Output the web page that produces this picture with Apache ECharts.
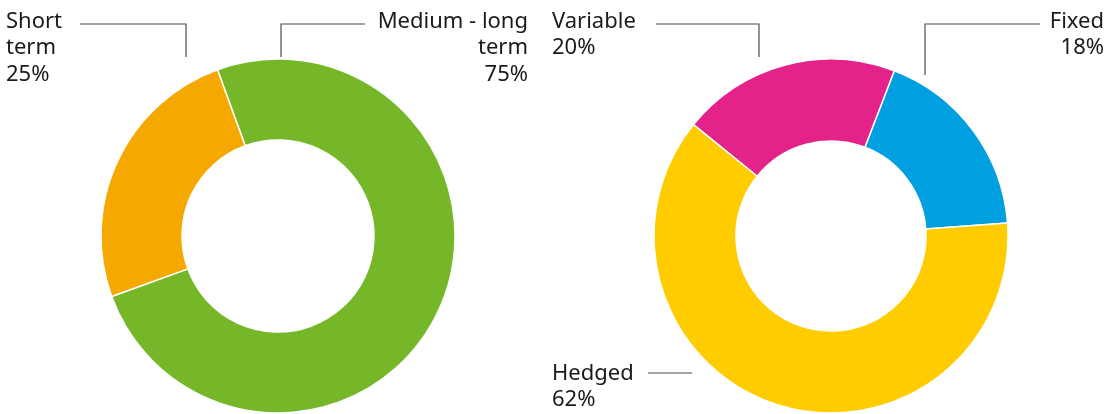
<!DOCTYPE html>
<html>
<head>
<meta charset="utf-8">
<script src="https://cdn.jsdelivr.net/npm/echarts@6/dist/echarts.min.js"></script>
<style>html,body{margin:0;padding:0;background:#fff}#c{width:1109px;height:414px}</style>
</head>
<body>
<div id="c"></div>
<script>
var termNames = ['Medium - long term', 'Short term'];
var termValues = [75, 25];
var termLabels = ['Medium - long\nterm', 'Short\nterm'];
var rateNames = ['Variable', 'Fixed', 'Hedged'];
var rateValues = [20, 18, 62];
var rateLabels = ['Variable', 'Fixed', 'Hedged'];

var termColors = ['#76B72A', '#F5A800'];
var rateColors = ['#E3238A', '#009FE0', '#FFCC00'];
var FONT = '"Noto Sans", "Open Sans", sans-serif';

function pieData(names, values, colors) {
  return names.map(function (n, i) { return { name: n, value: values[i], itemStyle: { color: colors[i] } }; });
}
function lbl(text, x, y, align) {
  return { type: 'text', x: x, y: y, style: { text: text, font: '22px ' + FONT, fill: '#1a1a1a', align: align, verticalAlign: 'top', lineHeight: 26.5 } };
}
function line(points) {
  return { type: 'polyline', shape: { points: points }, style: { stroke: '#4d4d4d', lineWidth: 1.2, fill: null } };
}

var chart = echarts.init(document.getElementById('c'));
chart.setOption({
  animation: false,
  series: [
    {
      type: 'pie', center: [278, 236], radius: [96, 177], startAngle: 110, clockwise: true,
      label: { show: false }, labelLine: { show: false }, silent: true,
      itemStyle: { borderColor: '#fff', borderWidth: 1.5 },
      data: pieData(termNames, termValues, termColors)
    },
    {
      type: 'pie', center: [831, 236], radius: [95, 177], startAngle: 141, clockwise: true,
      label: { show: false }, labelLine: { show: false }, silent: true,
      itemStyle: { borderColor: '#fff', borderWidth: 1.5 },
      data: pieData(rateNames, rateValues, rateColors)
    }
  ],
  graphic: [
    lbl(termLabels[1] + '\n' + termValues[1] + '%', 6, 8, 'left'),
    line([[80, 24], [186, 24], [186, 57]]),
    lbl(termLabels[0] + '\n' + termValues[0] + '%', 528, 8, 'right'),
    line([[281, 57], [281, 24], [365, 24]]),
    lbl(rateLabels[0] + '\n' + rateValues[0] + '%', 552, 8, 'left'),
    line([[656, 24], [759, 24], [759, 57]]),
    lbl(rateLabels[1] + '\n' + rateValues[1] + '%', 1104, 8, 'right'),
    line([[925, 75], [925, 24], [1040, 24]]),
    lbl(rateLabels[2] + '\n' + rateValues[2] + '%', 552, 360, 'left'),
    line([[648, 373], [692, 373]])
  ]
});
</script>
</body>
</html>
